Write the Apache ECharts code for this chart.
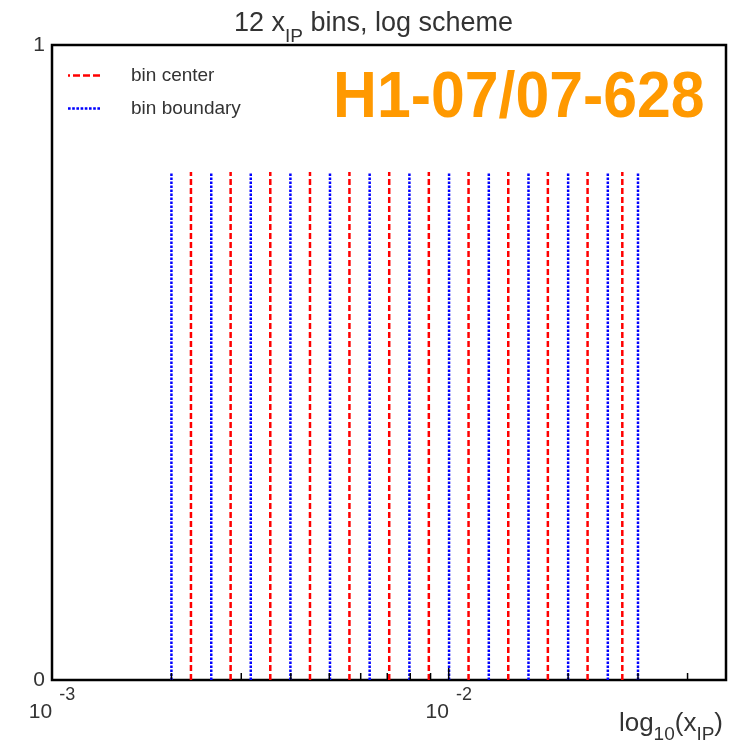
<!DOCTYPE html>
<html>
<head>
<meta charset="utf-8">
<title>12 x_IP bins, log scheme</title>
<script src="https://cdn.jsdelivr.net/npm/echarts@6/dist/echarts.min.js"></script>
<style>
  html, body { margin: 0; padding: 0; background: #fff; }
  #chart { width: 746px; height: 744px; }
</style>
</head>
<body>
<div id="chart"></div>
<script>
// Bin boundaries of the 12 x_IP bins (log scheme)
const binBoundaries = [0.002, 0.00252, 0.00317, 0.00399, 0.00502, 0.00632, 0.00796,
                       0.01002, 0.01262, 0.01589, 0.02, 0.02518, 0.03];
// Bin centres (geometric middle of each bin)
const binCenters = [0.00224, 0.00282, 0.00355, 0.00447, 0.00562, 0.00708, 0.00891,
                    0.01122, 0.01413, 0.01778, 0.02239, 0.02739];
// Height of the marker lines on the 0..1 y scale
const markerHeight = 0.8;

// Axis ranges and ticks
const xRange = [0.001, 0.05];
const yRange = [0, 1];
const xMajorTicks = [0.01];
const xMinorTicks = [0.002, 0.003, 0.004, 0.005, 0.006, 0.007, 0.008, 0.009,
                     0.02, 0.03, 0.04];
const xTickLabels = { '0.001': '-3', '0.01': '-2' };

const FONT = 'Liberation Sans, Arial, Helvetica, sans-serif';

// Each marker is a vertical segment from y=0 to markerHeight; '-' breaks the path
function verticalSegments(xs) {
  const out = [];
  xs.forEach(function (x) {
    out.push([x, 0]);
    out.push([x, markerHeight]);
    out.push([x, '-']);
  });
  return out;
}

// Legend icon: a row of small filled rectangles (dash pieces)
function dashIcon(pieces, thickness) {
  let d = '';
  pieces.forEach(function (p) {
    d += 'M' + p[0] + ',0H' + p[1] + 'V' + thickness + 'H' + p[0] + 'Z';
  });
  return 'path://' + d;
}
const centerIcon = dashIcon([[0, 2], [5, 12], [15, 22], [25, 32]], 2.5);
const boundaryIcon = dashIcon([[0, 2.5], [4, 6.5], [8, 10.5], [12, 14.5], [16, 18.5],
                               [20, 22.5], [24, 26.5], [28, 30.5]], 2.5);

function tickSeries(values, len) {
  return {
    type: 'custom',
    silent: true,
    z: 5,
    data: values.map(function (v) { return [v, 0]; }),
    renderItem: function (params, api) {
      const p = api.coord([api.value(0), 0]);
      return {
        type: 'line',
        shape: { x1: p[0], y1: p[1], x2: p[0], y2: p[1] - len },
        style: { stroke: '#000', lineWidth: 1.5 }
      };
    }
  };
}

const chart = echarts.init(document.getElementById('chart'), null, { renderer: 'canvas' });

chart.setOption({
  animation: false,
  backgroundColor: '#fff',
  title: {
    text: '12 x{sub|IP} bins, log scheme',
    left: 229,
    top: 5,
    textStyle: {
      fontFamily: FONT,
      fontSize: 27,
      fontWeight: 'normal',
      color: '#333',
      rich: {
        sub: { fontFamily: FONT, fontSize: 19, color: '#333', verticalAlign: 'bottom', padding: [0, 0, -9, 0] }
      }
    }
  },
  legend: {
    orient: 'vertical',
    left: 68,
    top: 66,
    padding: 0,
    itemWidth: 32,
    itemHeight: 19,
    itemGap: 14,
    data: [
      { name: 'bin center', icon: centerIcon },
      { name: 'bin boundary', icon: boundaryIcon }
    ],
    textStyle: {
      fontFamily: FONT,
      fontSize: 19,
      color: '#333',
      padding: [0, 0, 0, 26]
    }
  },
  grid: {
    left: 52,
    right: 20,
    top: 45,
    bottom: 61,
    show: true,
    borderColor: '#000',
    borderWidth: 2.5,
    backgroundColor: 'transparent',
    containLabel: false
  },
  xAxis: {
    type: 'log',
    logBase: 10,
    min: xRange[0],
    max: xRange[1],
    name: 'log{sub|10}(x{sub|IP})',
    nameLocation: 'end',
    nameGap: 0,
    nameTextStyle: {
      fontFamily: FONT,
      fontSize: 26,
      color: '#333',
      align: 'right',
      verticalAlign: 'top',
      padding: [31, 3, 0, 0],
      rich: {
        sub: { fontFamily: FONT, fontSize: 19, color: '#333', verticalAlign: 'bottom', padding: [0, 0, -7, 0] }
      }
    },
    axisLine: { show: false },
    axisTick: { show: false },
    splitLine: { show: false },
    axisLabel: {
      margin: 6,
      showMaxLabel: false,
      formatter: function (value) {
        const key = String(+value.toPrecision(6));
        const e = xTickLabels[key];
        return e === undefined ? '' : '{b|10}{e|' + e + '}';
      },
      rich: {
        b: { fontFamily: FONT, fontSize: 21, color: '#333', verticalAlign: 'bottom', padding: [16, 0, 0, 0] },
        e: { fontFamily: FONT, fontSize: 18, color: '#333', verticalAlign: 'top', padding: [0, 0, 0, 7] }
      }
    }
  },
  yAxis: {
    type: 'value',
    min: yRange[0],
    max: yRange[1],
    interval: 1,
    axisLine: { show: false },
    axisTick: { show: false },
    splitLine: { show: false },
    axisLabel: {
      margin: 7,
      fontFamily: FONT,
      fontSize: 21,
      color: '#333',
      padding: [12, 0, 0, 0]
    }
  },
  graphic: [{
    type: 'text',
    x: 333,
    y: 67,
    scaleX: 0.935,
    style: {
      text: 'H1-07/07-628',
      fontFamily: FONT,
      fontWeight: 'bold',
      fontSize: 65,
      fill: '#FF9900',
      verticalAlign: 'top'
    }
  }],
  series: [
    {
      name: 'bin center',
      type: 'line',
      data: verticalSegments(binCenters),
      connectNulls: false,
      symbol: 'none',
      silent: true,
      color: '#FF0000',
      lineStyle: { color: '#FF0000', width: 2.5, type: [6, 3] },
      z: 3
    },
    {
      name: 'bin boundary',
      type: 'line',
      data: verticalSegments(binBoundaries),
      connectNulls: false,
      symbol: 'none',
      silent: true,
      color: '#0000FF',
      lineStyle: { color: '#0000FF', width: 2.5, type: [2.5, 1.5] },
      z: 3
    },
    tickSeries(xMajorTicks, 12),
    tickSeries(xMinorTicks, 7)
  ]
});
</script>
</body>
</html>
